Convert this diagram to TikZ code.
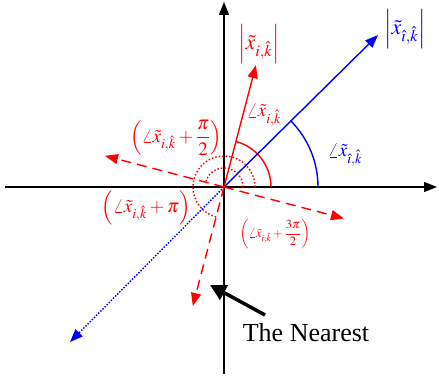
\documentclass[tikz,border=0pt]{standalone}
\usepackage{mathptmx}
\usepackage[no-math]{fontspec}
\setmainfont{Liberation Serif}
\usetikzlibrary{arrows.meta}
\definecolor{myred}{RGB}{255,0,0}
\definecolor{myblue}{RGB}{0,0,255}
\tikzset{
  tip/.style={-{Triangle[length=13pt,width=10pt]}},
  axis/.style={black,line width=1.4pt,tip},
  redvec/.style={myred,line width=1.4pt,tip},
  reddash/.style={myred,line width=1.4pt,dash pattern=on 10pt off 6pt,tip},
  bluevec/.style={myblue,line width=1.4pt,tip},
  bluedot/.style={myblue,line width=1.4pt,dash pattern=on 1.5pt off 1.5pt,tip},
  lab/.style={inner sep=0pt,font=\fontsize{19}{22}\selectfont},
}
\begin{document}
\begin{tikzpicture}[x=1pt,y=1pt]
\useasboundingbox (-224,-191) rectangle (215,187);
\coordinate (O) at (0,0);
\coordinate (xl) at (-219,0);
\coordinate (xr) at (213,0);
\coordinate (yb) at (0,-187);
\coordinate (yt) at (0,185);
\coordinate (R) at (75.3:126);
\coordinate (R1) at (165.3:123);
\coordinate (R2) at (255.3:123);
\coordinate (R3) at (345.3:124);
\coordinate (B) at (154,152);
\coordinate (B2) at (-154,-155);
% axes
\draw[black,line width=1.4pt] (O) -- (xl);
\draw[axis] (O) -- (xr);
\draw[black,line width=1.4pt] (O) -- (yb);
\draw[axis] (O) -- (yt);
% arcs
\draw[myred,line width=1.4pt] (47,0) arc[start angle=0,end angle=75.3,radius=47];
\draw[myblue,line width=1.4pt] (94,0) arc[start angle=0,end angle=45,radius=94];
\draw[myred,line width=1.4pt,dash pattern=on 1.5pt off 2pt] (19,0) arc[start angle=0,end angle=165.3,radius=19];
\draw[myred,line width=1.4pt,dash pattern=on 1.5pt off 2pt] (31,0) arc[start angle=0,end angle=255.3,radius=31];
% vectors
\draw[bluedot] (O) -- (B2);
\draw[bluevec] (O) -- (B);
\draw[redvec] (O) -- (R);
\draw[reddash] (O) -- (R1);
\draw[reddash] (O) -- (R2);
\draw[reddash] (O) -- (R3);
% labels
\node[lab,myred,font=\fontsize{22}{26}\selectfont] (LR) at (35,143) {$\left|\tilde{x}_{i,\hat{k}}\right|$};
\node[lab,myblue,font=\fontsize{22}{26}\selectfont] (LB) at (181,158) {$\left|\tilde{x}_{\hat{\imath},\hat{k}}\right|$};
\node[lab,myred] (AR) at (40,72) {$\angle\tilde{x}_{i,\hat{k}}$};
\node[lab,myblue] (AB) at (121,32) {$\angle\tilde{x}_{\hat{\imath},\hat{k}}$};
\node[lab,myred] (A1) at (-48,49) {$\left(\angle\tilde{x}_{i,\hat{k}}+\displaystyle\frac{\pi}{2}\right)$};
\node[lab,myred] (A2) at (-78,-21) {$\left(\angle\tilde{x}_{i,\hat{k}}+\pi\right)$};
\node[lab,myred,font=\fontsize{12.5}{15}\selectfont] (A3) at (51,-47) {$\left(\angle\tilde{x}_{i,\hat{k}}+\displaystyle\frac{3\pi}{2}\right)$};
\node[inner sep=0pt,font=\fontsize{26}{30}\selectfont] (TN) at (82,-146) {The Nearest};
\coordinate (T0) at (41,-128);
\coordinate (T1) at (-14,-98);
\draw[black,line width=3.5pt,-{Triangle[length=16pt,width=16pt]}] (T0) -- (T1);
\end{tikzpicture}
\end{document}
